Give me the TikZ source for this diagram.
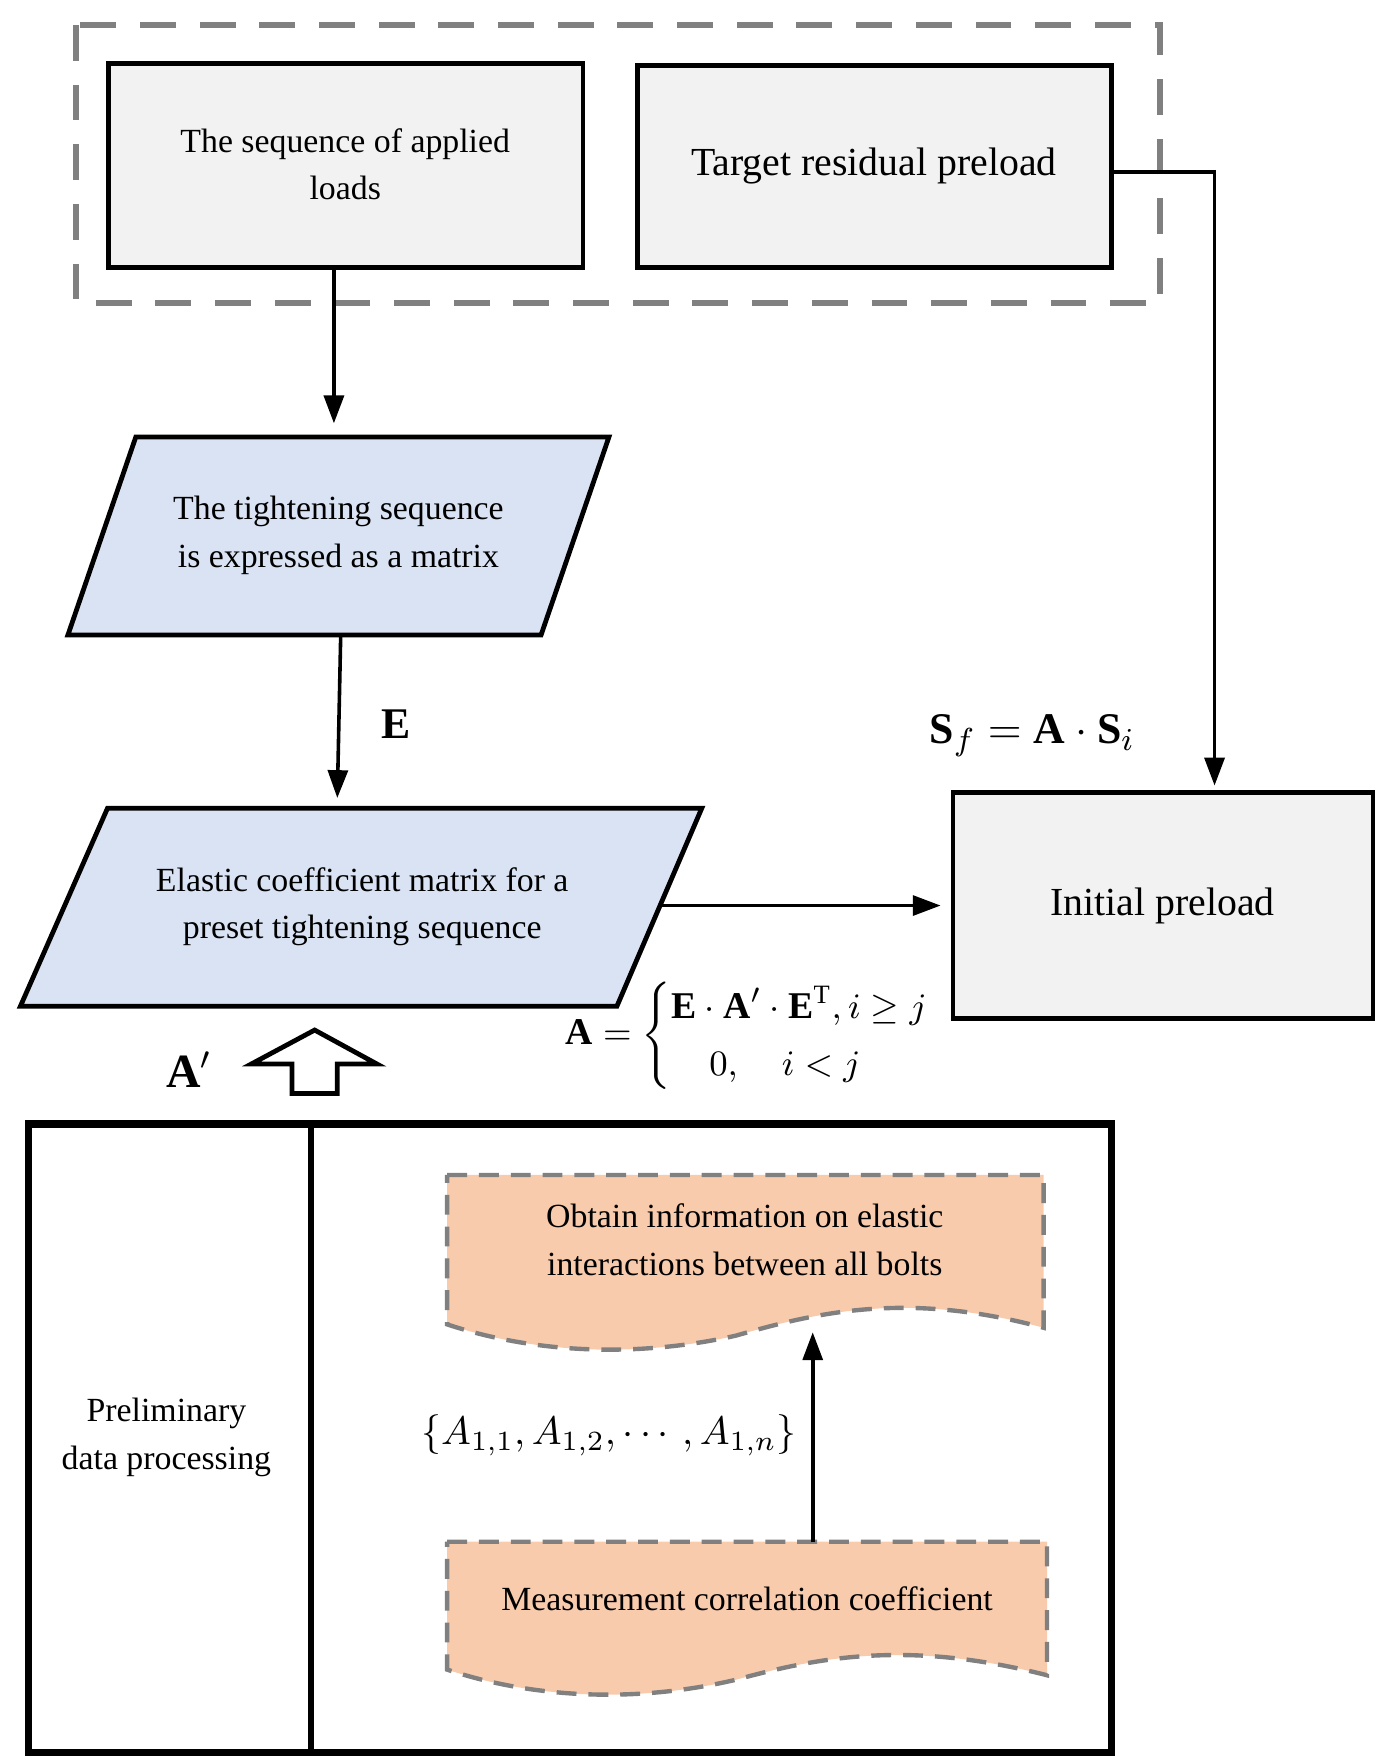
\documentclass[tikz,border=0pt]{standalone}
\usepackage{fontspec}
\setmainfont{Liberation Serif}
\usepackage{amsmath}
\usetikzlibrary{arrows.meta}
\definecolor{gbox}{HTML}{F2F2F2}
\definecolor{bbox}{HTML}{DAE3F3}
\definecolor{obox}{HTML}{F8CBAD}
\begin{document}
\begin{tikzpicture}[x=0.1mm,y=-0.1mm,
  txt/.style={align=center,font=\fontsize{8.5}{12}\selectfont},
  box/.style={draw=black,line width=1.2pt,fill=gbox},
  par/.style={draw=black,line width=1.2pt,fill=bbox},
  doc/.style={draw=gray,dashed,line width=1.1pt,fill=obox,dash pattern=on 5pt off 3pt},
  arr/.style={-{Triangle[length=7pt,width=5pt]},line width=0.9pt}]
\useasboundingbox (0,0) rectangle (1220,1554);
\draw[gray,line width=1.5pt,dash pattern=on 9pt off 6pt] (67,22) rectangle (1025,268);
\draw[box] (96,56) rectangle (515,236);
\node[txt] (b1) at (305,145) {The sequence of applied\\loads};
\coordinate (b1s) at (295,236);
\draw[box] (563,58) rectangle (982,236);
\node[txt,font=\fontsize{10}{12}\selectfont] (b2) at (772,147) {Target residual preload};
\coordinate (b2e) at (982,152);
\draw[par] (120,386) -- (538,386) -- (478,561) -- (60,561) -- cycle;
\node[txt] (p1) at (299,473) {The tightening sequence\\is expressed as a matrix};
\coordinate (p1n) at (295,374);
\coordinate (p1s) at (301,561);
\draw[par] (95,714) -- (620,714) -- (545,889) -- (18,889) -- cycle;
\node[txt] (p2) at (320,801) {Elastic coefficient matrix for a\\preset tightening sequence};
\coordinate (p2n) at (298,705);
\coordinate (p2e) at (585,800);
\draw[box] (842,700) rectangle (1213,900);
\node[txt,font=\fontsize{10}{12}\selectfont] (ip) at (1027,800) {Initial preload};
\coordinate (ipn) at (1073,694);
\coordinate (ipw) at (831,800);
\draw[arr] (b1s) -- (p1n);
\draw[arr] (p1s) -- (p2n);
\draw[arr] (b2e) -| (ipn);
\draw[arr] (p2e) -- (ipw);
\node[font=\fontsize{11}{12}\selectfont] (E) at (350,640) {$\mathbf{E}$};
\node[font=\fontsize{11}{12}\selectfont] (sf) at (912,650) {$\mathbf{S}_f=\mathbf{A}\cdot\mathbf{S}_i$};
\node[font=\fontsize{9.5}{12}\selectfont] (Aeq) at (678,915) {$\mathbf{A}=\begin{cases}\mathbf{E}\cdot\mathbf{A}'\cdot\mathbf{E}^{\mathrm{T}},i\ge j\\ \quad 0,\quad i<j\end{cases}$};
\node[font=\fontsize{12}{12}\selectfont] (Ap) at (167,945) {$\mathbf{A}'$};
\draw[line width=1.2pt,fill=white] (278,910) -- (333,940) -- (298,940) -- (298,966) -- (258,966) -- (258,940) -- (222,940) -- cycle;
\draw[line width=1.8pt] (25,993) rectangle (982,1548);
\draw[line width=1.5pt] (275,993) -- (275,1548);
\node[txt] (pre) at (147,1270) {Preliminary\\data processing};
\draw[doc] (395,1038) -- (922,1038) -- (922,1173) .. controls (800,1140) and (720,1160) .. (650,1180) .. controls (560,1200) and (470,1195) .. (395,1170) -- cycle;
\node[txt] (d1) at (658,1095) {Obtain information on elastic\\interactions between all bolts};
\draw[doc] (395,1362) -- (925,1362) -- (925,1480) .. controls (800,1448) and (720,1465) .. (650,1484) .. controls (560,1505) and (470,1500) .. (395,1475) -- cycle;
\node[txt] (d2) at (660,1412) {Measurement correlation coefficient};
\coordinate (d2n) at (718,1362);
\coordinate (d1s) at (718,1177);
\draw[arr] (d2n) -- (d1s);
\node[font=\fontsize{10}{12}\selectfont] (set) at (538,1268) {$\{A_{1,1},A_{1,2},\cdots,A_{1,n}\}$};
\end{tikzpicture}
\end{document}
